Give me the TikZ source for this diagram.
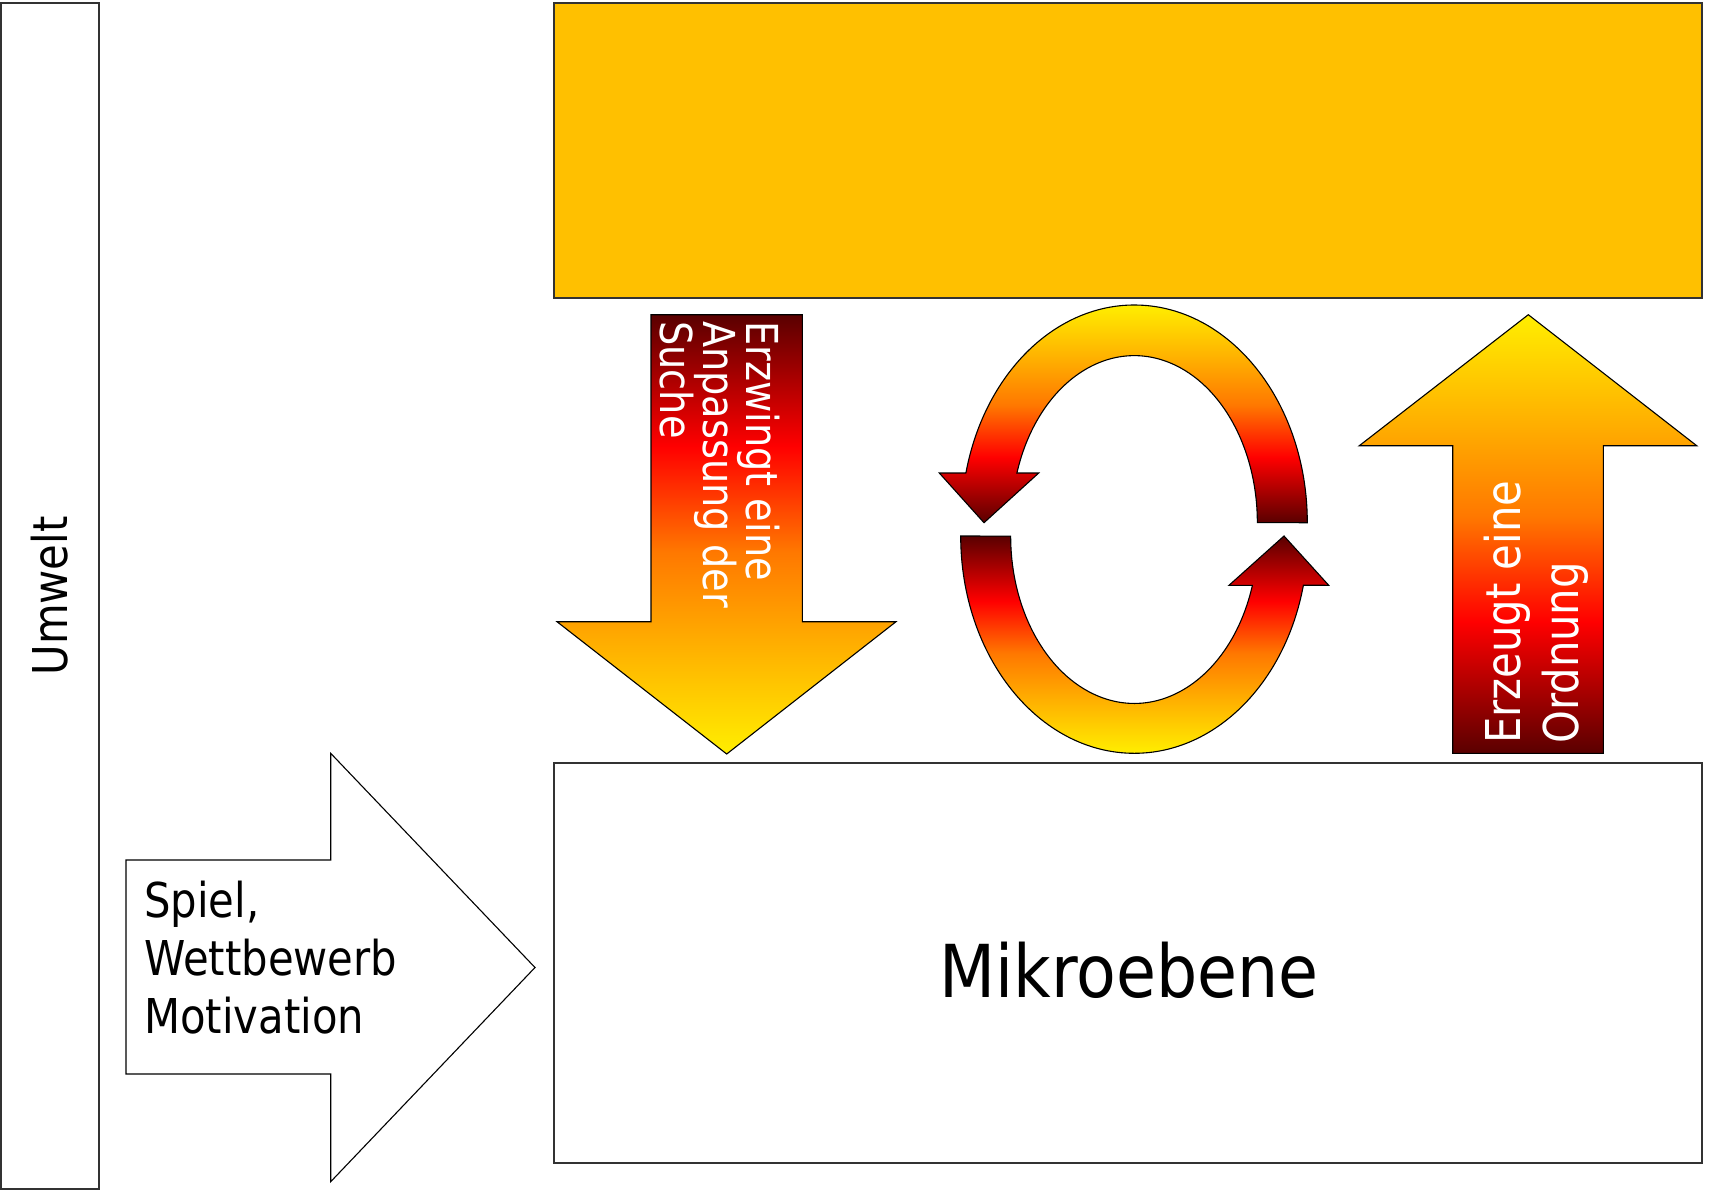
\documentclass[tikz,border=0pt]{standalone}
\usepackage{fontspec}
\setmainfont{DejaVu Sans}[FakeStretch=0.87]
\newfontfamily\mikrofont{DejaVu Sans}[FakeStretch=0.89]
\definecolor{hdark}{RGB}{90,0,0}
\definecolor{hred}{RGB}{255,0,0}
\definecolor{horange}{RGB}{255,120,0}
\definecolor{hamber}{RGB}{255,172,0}
\definecolor{hyellow}{RGB}{255,238,0}
\definecolor{gold}{RGB}{255,192,0}
\definecolor{edge}{RGB}{50,50,50}
\newcommand\tightls{\lineskiplimit=-100pt\relax}
\pgfdeclareverticalshading{hot}{100bp}{color(0bp)=(hdark); color(25bp)=(hdark); color(40bp)=(hred); color(52bp)=(horange); color(62bp)=(hamber); color(75bp)=(hyellow); color(100bp)=(hyellow)}
\begin{document}
\begin{tikzpicture}[x=1pt,y=-1pt,
  plainbox/.style={draw=edge, line width=1.3pt, inner sep=0pt},
  hotarrow/.style={shading=hot, draw=black, line width=1.1pt, line join=miter},
  bigtxt/.style={font=\fontsize{48}{58}\selectfont, inner sep=0pt},
  wtxt/.style={text=white, align=left, inner sep=0pt}]
\fill[white] (0,0) rectangle (1710,1191);
\useasboundingbox (0,0) rectangle (1710,1191);

% rectangles
\node[plainbox, minimum width=98pt, minimum height=1186pt] (umweltbox) at (50,596) {};
\node[plainbox, fill=gold, minimum width=1148pt, minimum height=295pt] (makro) at (1128,150.5) {};
\node[plainbox, minimum width=1148pt, minimum height=400pt] (mikrobox) at (1128,963) {};

% white block arrow
\draw[draw=black, line width=1.1pt, fill=white] (126,860) -- (330.7,860) -- (330.7,753.3) -- (535,967.5) -- (330.7,1181.7) -- (330.7,1074) -- (126,1074) -- cycle;

% down arrow
\shadedraw[hotarrow, shading angle=180] (651,314.7) -- (802.3,314.7) -- (802.3,621.7) -- (896,621.7) -- (726.7,754) -- (557,621.7) -- (651,621.7) -- cycle;

% up arrow
\shadedraw[hotarrow] (1528.3,314.7) -- (1696.7,445.7) -- (1603.3,445.7) -- (1603.3,753.3) -- (1452.7,753.3) -- (1452.7,445.7) -- (1359.3,445.7) -- cycle;

% circular arrows
\shadedraw[hotarrow] (1307.3,522.7) arc[start angle=0,end angle=166.8,x radius=173pt,y radius=217.7pt]
  -- (939.3,473) -- (984,522.7) -- (1038.7,473) -- (1016.9,473)
  arc[start angle=162.7,end angle=0,x radius=123pt,y radius=167pt] -- cycle;
\shadedraw[hotarrow, shading angle=180] (960.7,536) arc[start angle=180,end angle=346.9,x radius=173.6pt,y radius=217.3pt]
  -- (1328.7,585.3) -- (1284,536) -- (1229,585.3) -- (1252.4,585.3)
  arc[start angle=342.9,end angle=180,x radius=123.6pt,y radius=167.3pt] -- cycle;

% texts
\node[bigtxt, rotate=90] (umwelt) at (umweltbox.center) {Umwelt};
\node[font=\mikrofont\fontsize{73}{86}\selectfont, inner sep=0pt, anchor=base] (mikro) at (1129,997) {Mikroebene};
\node[bigtxt, align=left, anchor=north west] (spiel) at (144,880.5) {Spiel,\\Wettbewerb\\Motivation};
\node[wtxt, rotate=-90, anchor=north west, font={\fontsize{44}{43}\selectfont\tightls}] (erzwingt) at (780,321) {Erzwingt eine\\Anpassung der\\Suche};
\node[wtxt, rotate=90, anchor=north west, font={\fontsize{48}{58}\selectfont\tightls}] (erzeugt) at (1483.5,744) {Erzeugt eine\\Ordnung};
\end{tikzpicture}
\end{document}
